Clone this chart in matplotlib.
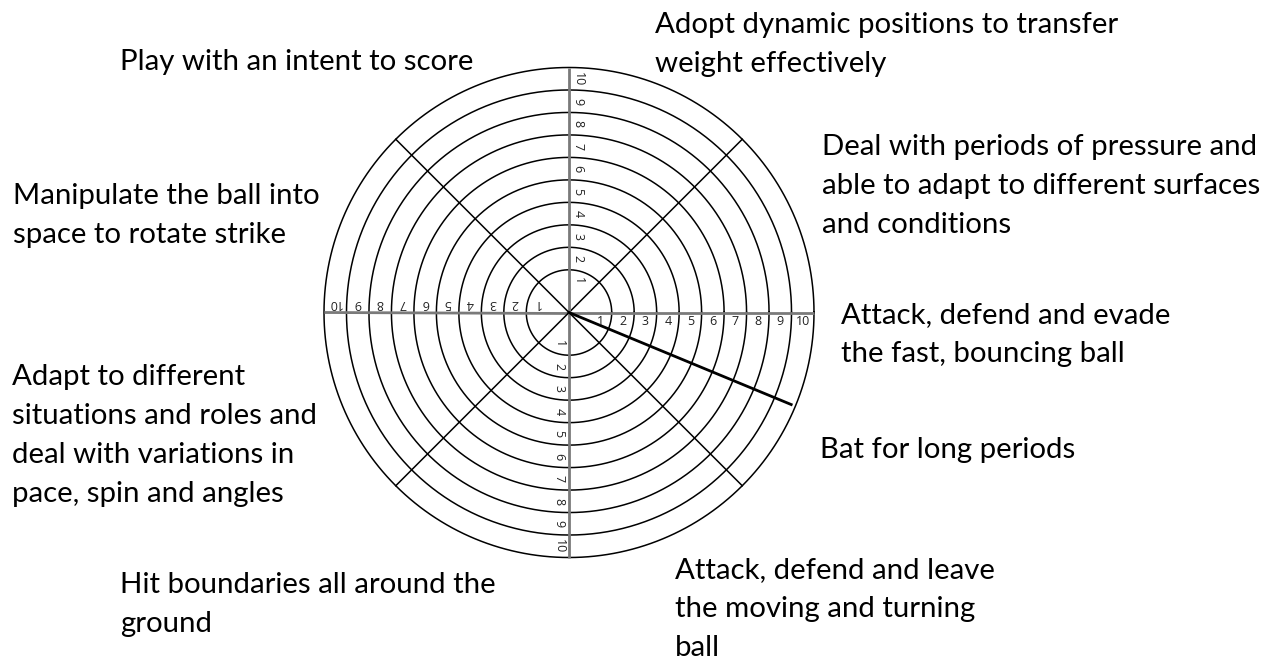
import numpy as np
import matplotlib
matplotlib.use("Agg")
import matplotlib.pyplot as plt

# Rating wheel data
levels = [1, 2, 3, 4, 5, 6, 7, 8, 9, 10]
spoke_angles = [0, 45, 90, 135, 180, 225, 270, 315]   # degrees
scored_angle = -22.5     # direction of the drawn score line
scored_value = 9.8       # how far out it reaches

categories = [
    "Play with an intent to score",
    "Adopt dynamic positions to transfer\nweight effectively",
    "Deal with periods of pressure and\nable to adapt to different surfaces\nand conditions",
    "Attack, defend and evade\nthe fast, bouncing ball",
    "Bat for long periods",
    "Attack, defend and leave\nthe moving and turning\nball",
    "Hit boundaries all around the\nground",
    "Adapt to different\nsituations and roles and\ndeal with variations in\npace, spin and angles",
    "Manipulate the ball into\nspace to rotate strike",
]
# left x / first baseline y of each label, in pixels from the top-left
label_pos = [(120, 70), (655, 33), (822, 155), (841, 323), (820, 458),
             (675, 578), (120, 593), (12, 385), (13, 204)]
line_gap = 39.0

W, H = 1281, 661
fig = plt.figure(figsize=(W / 100, H / 100), dpi=100)
fig.patch.set_facecolor("white")

# background axes in pixel units for the captions
bg = fig.add_axes([0, 0, 1, 1])
bg.set_xlim(0, W)
bg.set_ylim(H, 0)
bg.axis("off")

for text, (x, y) in zip(categories, label_pos):
    for i, line in enumerate(text.split("\n")):
        bg.text(x, y + i * line_gap, line, ha="left", va="baseline",
                fontsize=21.2, family="Lato", color="black")

# the wheel itself: polar axes, r = -0.9 sits at the centre
cx, cy, R = 569, 312.5, 245
pax = fig.add_axes([(cx - R) / W, (H - cy - R) / H, 2 * R / W, 2 * R / H],
                   projection="polar")
pax.set_ylim(-0.9, 10)
pax.set_facecolor("none")
pax.grid(False)
pax.set_xticks([])
pax.set_yticks([])
for sp in pax.spines.values():
    sp.set_visible(False)

theta = np.linspace(0, 2 * np.pi, 721)
for lv in levels:
    pax.plot(theta, np.full_like(theta, lv), color="black", lw=1.1,
             clip_on=False)

for a in spoke_angles:
    t = np.deg2rad(a)
    if a % 90 == 0:
        pax.plot([t, t], [-0.9, 10], color="#7a7a7a", lw=2.0, clip_on=False,
                 solid_capstyle="butt")
    else:
        pax.plot([t, t], [-0.9, 10], color="black", lw=1.1, clip_on=False)

# numbers along the four main axes
num_style = {0: ((0, -9), 0), 180: ((0, 9), 180),
             90: ((9, 0), -90), 270: ((-10, 0), -90)}
for a, (off, rot) in num_style.items():
    t = np.deg2rad(a)
    for lv in levels:
        pax.annotate(str(lv), xy=(t, lv - 0.5), xytext=off,
                     textcoords="offset pixels", rotation=rot,
                     ha="center", va="center", fontsize=9,
                     family="Open Sans", color="#222222",
                     annotation_clip=False)

# the score line
ts = np.deg2rad(scored_angle)
pax.plot([ts, ts], [-0.9, scored_value], color="black", lw=2.0,
         clip_on=False)

fig.savefig("out.png", dpi=100)
